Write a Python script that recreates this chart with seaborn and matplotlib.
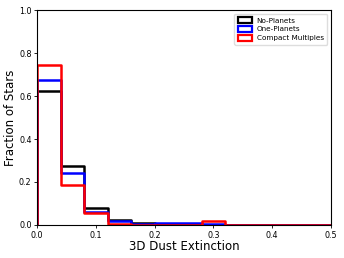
#Script for dust extinction histogram of planet host samples

import numpy as np
import pandas as pd
import matplotlib
matplotlib.use("Agg")
import matplotlib.pyplot as plt
from matplotlib.patches import Patch
import seaborn as sns

# bin edges (a zero-height bin before 0 so the outline rises at x=0)
bin_edges = [-0.04, 0.0, 0.04, 0.08, 0.12, 0.16, 0.20, 0.24, 0.28, 0.32,
             0.36, 0.40, 0.44, 0.48, 0.52]

# fraction of stars per bin (first value is the padding bin)
no_planets = [0.0, 0.622, 0.276, 0.078, 0.022, 0.008, 0.003, 0.003, 0.002,
              0.0, 0.0, 0.0, 0.0, 0.0]
one_planets = [0.0, 0.673, 0.242, 0.062, 0.018, 0.006, 0.008, 0.008, 0.003,
               0.0, 0.0, 0.0, 0.0, 0.0]
compact_multiples = [0.0, 0.743, 0.186, 0.057, 0.006, 0.0, 0.0, 0.0, 0.02,
                     0.0, 0.0, 0.0, 0.0, 0.0]

labels = ["No-Planets", "One-Planets", "Compact Multiples"]
colors = ["black", "blue", "red"]


def make_frame():
    #Build a long table with one row per bin and sample.
    centers = [(a + b) / 2 for a, b in zip(bin_edges[:-1], bin_edges[1:])]
    rows = []
    for label, values in zip(labels, [no_planets, one_planets, compact_multiples]):
        for c, v in zip(centers, values):
            rows.append({"extinction": c, "fraction": v, "sample": label})
    return pd.DataFrame(rows)


def plot_hist(df):
    fig = plt.figure(figsize=(3.44, 2.58), dpi=100)
    ax = fig.add_axes([0.108, 0.128, 0.854, 0.833])

    for label, color in zip(labels, colors):
        sub = df[df["sample"] == label]
        sns.histplot(
            data=sub,
            x="extinction",
            weights="fraction",
            bins=bin_edges,
            element="step",
            fill=False,
            color=color,
            linewidth=1.8,
            ax=ax,
        )

    ax.set_xlim(0, 0.5)
    ax.set_ylim(0, 1.0)
    ax.set_xticks([0.0, 0.1, 0.2, 0.3, 0.4, 0.5])
    ax.set_yticks([0.0, 0.2, 0.4, 0.6, 0.8, 1.0])
    ax.tick_params(labelsize=5.8, length=2.5, width=0.6, pad=1.5)
    ax.set_xlabel("3D Dust Extinction", fontsize=8.5, labelpad=0.5)
    ax.set_ylabel("Fraction of Stars", fontsize=8.5, labelpad=1.5)
    for s in ax.spines.values():
        s.set_linewidth(0.8)

    handles = [Patch(facecolor="white", edgecolor=c, linewidth=1.6, label=l)
               for l, c in zip(labels, colors)]
    ax.legend(handles=handles, loc="upper right", fontsize=5.2,
              handlelength=2.0, handleheight=0.9, borderpad=0.5,
              labelspacing=0.3, handletextpad=0.6, framealpha=1.0,
              fancybox=True, edgecolor="#dddddd")

    fig.savefig("out.png", dpi=100)


if __name__ == "__main__":
    df = make_frame()
    plot_hist(df)
